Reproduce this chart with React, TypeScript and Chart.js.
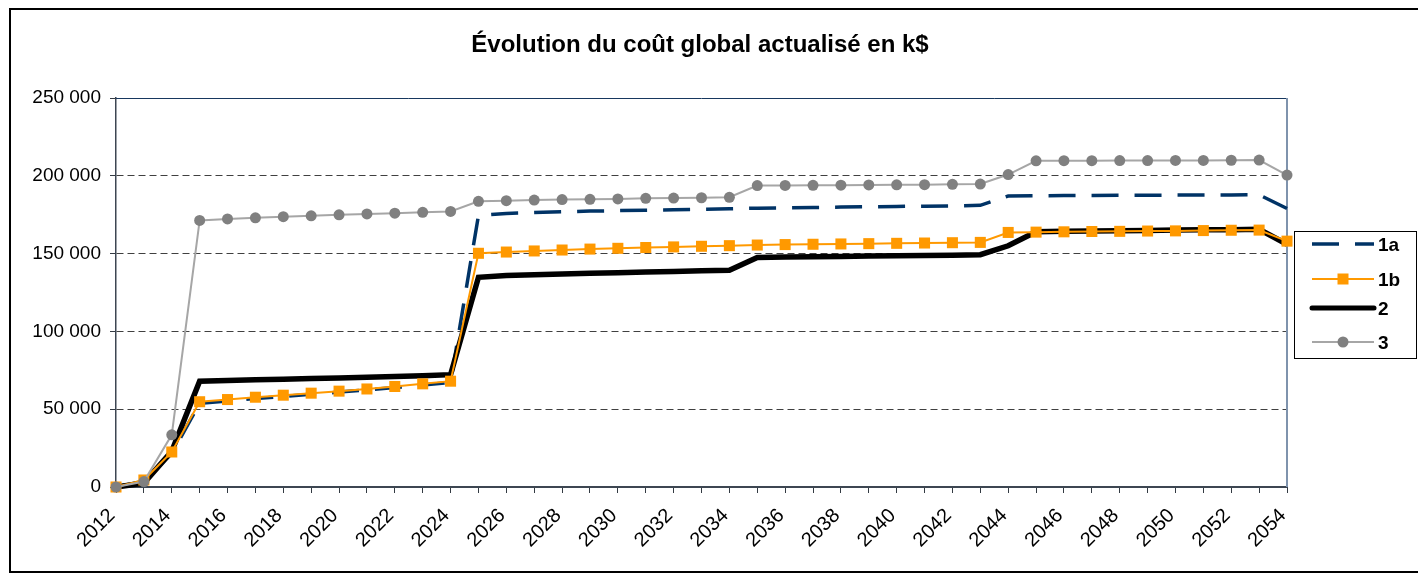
import React, { useEffect, useRef } from 'react';
import { Chart, registerables } from 'chart.js';

Chart.register(...registerables);

const TITLE = 'Évolution du coût global actualisé en k$';

const years = [
  '2012', '2013', '2014', '2015', '2016', '2017', '2018', '2019', '2020', '2021',
  '2022', '2023', '2024', '2025', '2026', '2027', '2028', '2029', '2030', '2031',
  '2032', '2033', '2034', '2035', '2036', '2037', '2038', '2039', '2040', '2041',
  '2042', '2043', '2044', '2045', '2046', '2047', '2048', '2049', '2050', '2051',
  '2052', '2053', '2054',
];

const series1a = [
  0, 3800, 21500, 53800, 55300, 56800, 58200, 59600, 61000, 62400,
  63900, 65500, 67200, 174500, 175800, 176400, 176900, 177300, 177600, 177900,
  178200, 178500, 178800, 179200, 179400, 179600, 179900, 180100, 180300, 180500,
  180700, 181000, 187000, 187200, 187300, 187400, 187500, 187500, 187600, 187600,
  187700, 187800, 179000,
];

const series1b = [
  0, 4500, 22500, 54800, 56200, 57700, 59000, 60300, 61600, 63000,
  64600, 66300, 68000, 150200, 151000, 151700, 152300, 152900, 153400, 153900,
  154300, 154700, 155100, 155500, 155800, 156000, 156200, 156400, 156600, 156800,
  157000, 157200, 163600, 163800, 164000, 164200, 164300, 164500, 164600, 164800,
  165000, 165100, 158000,
];

const series2 = [
  0, 2500, 23000, 68000, 68500, 68900, 69300, 69700, 70100, 70500,
  71000, 71500, 72200, 134800, 135900, 136400, 136900, 137300, 137700, 138100,
  138500, 138900, 139300, 147500, 147800, 148000, 148200, 148400, 148600, 148800,
  149000, 149300, 155000, 164000, 164300, 164500, 164700, 164900, 165100, 165300,
  165400, 165600, 156000,
];

const series3 = [
  0, 3500, 33500, 171300, 172300, 173000, 173700, 174300, 174900, 175500,
  176000, 176500, 177100, 183600, 184000, 184400, 184700, 184900, 185100, 185500,
  185700, 185900, 186200, 193700, 193800, 193900, 194000, 194100, 194200, 194300,
  194500, 194700, 200800, 209600, 209700, 209700, 209800, 209800, 209900, 209900,
  210000, 210100, 200500,
];

const seriesNames = ['1a', '1b', '2', '3'];

const FONT = '"Liberation Sans", Arial, Helvetica, sans-serif';

const NAVY = '#003366';
const ORANGE = '#FF9900';
const GRAY_LINE = '#a6a6a6';
const GRAY_POINT = '#808080';

function formatThousands(v: number): string {
  const s = String(Math.round(v));
  return s.replace(/\B(?=(\d{3})+(?!\d))/g, ' ');
}

const decorPlugin = {
  id: 'decor',
  beforeDraw(chart: any) {
    const { ctx, width, height } = chart;
    ctx.save();
    ctx.fillStyle = '#ffffff';
    ctx.fillRect(0, 0, width, height);
    // outer frame
    ctx.strokeStyle = '#000000';
    ctx.lineWidth = 2;
    ctx.beginPath();
    ctx.moveTo(width + 5, 9);
    ctx.lineTo(10, 9);
    ctx.lineTo(10, 572);
    ctx.lineTo(width + 5, 572);
    ctx.stroke();
    // title
    ctx.fillStyle = '#000000';
    ctx.font = 'bold 24px ' + FONT;
    ctx.textAlign = 'center';
    ctx.textBaseline = 'alphabetic';
    ctx.fillText(TITLE, 700, 52);
    ctx.restore();
  },
  beforeDatasetsDraw(chart: any) {
    const { ctx, chartArea } = chart;
    const { left, right, top, bottom } = chartArea;
    ctx.save();
    ctx.strokeStyle = '#17375e';
    ctx.lineWidth = 1;
    ctx.beginPath();
    ctx.moveTo(left, top + 0.5);
    ctx.lineTo(right, top + 0.5);
    ctx.stroke();
    ctx.strokeStyle = '#7f93ad';
    ctx.lineWidth = 2;
    ctx.beginPath();
    ctx.moveTo(right, top);
    ctx.lineTo(right, bottom);
    ctx.stroke();
    ctx.restore();
  },
  afterDraw(chart: any) {
    const { ctx } = chart;
    ctx.save();
    // legend box
    const bx = 1294.5, by = 231.5, bw = 122, bh = 127;
    ctx.strokeStyle = '#000000';
    ctx.lineWidth = 1;
    ctx.strokeRect(bx, by, bw, bh);
    const x1 = 1312, x2 = 1374, xm = 1343, tx = 1378;
    const rows = [244, 279, 308, 342];
    // 1a
    ctx.strokeStyle = NAVY;
    ctx.lineWidth = 3.5;
    ctx.setLineDash([27, 16]);
    ctx.beginPath();
    ctx.moveTo(x1, rows[0]);
    ctx.lineTo(x2, rows[0]);
    ctx.stroke();
    ctx.setLineDash([]);
    // 1b
    ctx.strokeStyle = ORANGE;
    ctx.lineWidth = 2;
    ctx.beginPath();
    ctx.moveTo(x1, rows[1]);
    ctx.lineTo(x2, rows[1]);
    ctx.stroke();
    ctx.fillStyle = ORANGE;
    ctx.fillRect(xm - 5.5, rows[1] - 5.5, 11, 11);
    // 2
    ctx.strokeStyle = '#000000';
    ctx.lineWidth = 5;
    ctx.lineCap = 'round';
    ctx.beginPath();
    ctx.moveTo(x1, rows[2]);
    ctx.lineTo(x2, rows[2]);
    ctx.stroke();
    ctx.lineCap = 'butt';
    // 3
    ctx.strokeStyle = GRAY_LINE;
    ctx.lineWidth = 2;
    ctx.beginPath();
    ctx.moveTo(x1, rows[3]);
    ctx.lineTo(x2, rows[3]);
    ctx.stroke();
    ctx.fillStyle = GRAY_POINT;
    ctx.beginPath();
    ctx.arc(xm, rows[3], 5.5, 0, Math.PI * 2);
    ctx.fill();
    // texts
    ctx.fillStyle = '#000000';
    ctx.font = 'bold 19px ' + FONT;
    ctx.textAlign = 'left';
    ctx.textBaseline = 'alphabetic';
    seriesNames.forEach((name, i) => {
      ctx.fillText(name, tx, rows[i] + 7);
    });
    ctx.restore();
  },
};

export default function App() {
  const canvasRef = useRef<HTMLCanvasElement | null>(null);

  useEffect(() => {
    const canvas = canvasRef.current;
    if (!canvas) return;
    const chart = new Chart(canvas, {
      type: 'line',
      data: {
        labels: years,
        datasets: [
          {
            label: seriesNames[0],
            data: series1a,
            borderColor: NAVY,
            backgroundColor: NAVY,
            borderWidth: 3.5,
            borderDash: [27, 16],
            pointRadius: 0,
            pointHoverRadius: 0,
            tension: 0,
            clip: false as any,
            order: 3,
          },
          {
            label: seriesNames[1],
            data: series1b,
            borderColor: ORANGE,
            backgroundColor: ORANGE,
            borderWidth: 2,
            pointStyle: 'rect',
            pointRadius: 7.8,
            pointBorderWidth: 0,
            pointBackgroundColor: ORANGE,
            pointBorderColor: ORANGE,
            tension: 0,
            clip: false as any,
            order: 1,
          },
          {
            label: seriesNames[2],
            data: series2,
            borderColor: '#000000',
            backgroundColor: '#000000',
            borderWidth: 5.5,
            pointRadius: 0,
            pointHoverRadius: 0,
            tension: 0,
            clip: false as any,
            order: 2,
          },
          {
            label: seriesNames[3],
            data: series3,
            borderColor: GRAY_LINE,
            backgroundColor: GRAY_POINT,
            borderWidth: 2,
            pointStyle: 'circle',
            pointRadius: 5.5,
            pointBorderWidth: 0,
            pointBackgroundColor: GRAY_POINT,
            pointBorderColor: GRAY_POINT,
            tension: 0,
            clip: false as any,
            order: 0,
          },
        ],
      },
      options: {
        responsive: false,
        animation: false,
        devicePixelRatio: 1,
        layout: {
          padding: { left: 12, right: 131, top: 98, bottom: 0 },
        },
        plugins: {
          legend: { display: false },
          title: { display: false },
          tooltip: { enabled: false },
        },
        scales: {
          x: {
            type: 'category',
            offset: false,
            grid: {
              display: true,
              drawOnChartArea: false,
              drawTicks: true,
              tickLength: 6,
              tickColor: '#333a42',
              tickWidth: 1,
            },
            border: { display: true, color: '#3d4652', width: 2 },
            ticks: {
              autoSkip: false,
              maxRotation: 45,
              minRotation: 45,
              padding: 11,
              labelOffset: -4,
              color: '#000000',
              font: { family: FONT, size: 20 },
              callback: (_v: any, index: number) => (index % 2 === 0 ? years[index] : ''),
            },
            afterFit: (scale: any) => {
              scale.height = 87;
            },
          },
          y: {
            type: 'linear',
            min: 0,
            max: 250000,
            grid: {
              display: true,
              drawOnChartArea: true,
              drawTicks: true,
              tickLength: 6,
              tickColor: '#333a42',
              tickWidth: 1,
              lineWidth: 1,
              color: (c: any) =>
                c.tick && (c.tick.value === 250000 || c.tick.value === 0) ? 'rgba(0,0,0,0)' : '#404040',
            },
            border: { display: true, color: '#3d4652', width: 1.5, dash: [7, 4] },
            ticks: {
              stepSize: 50000,
              padding: 9,
              color: '#000000',
              font: { family: FONT, size: 19 },
              callback: (v: any) => formatThousands(Number(v)),
            },
            afterFit: (scale: any) => {
              scale.width = 104;
            },
          },
        },
      },
      plugins: [decorPlugin],
    } as any);
    return () => {
      chart.destroy();
    };
  }, []);

  return (
    <div style={{ position: 'absolute', left: 0, top: 0, width: 1418, height: 574 }}>
      <canvas ref={canvasRef} width={1418} height={574} style={{ display: 'block', width: 1418, height: 574 }} />
    </div>
  );
}
